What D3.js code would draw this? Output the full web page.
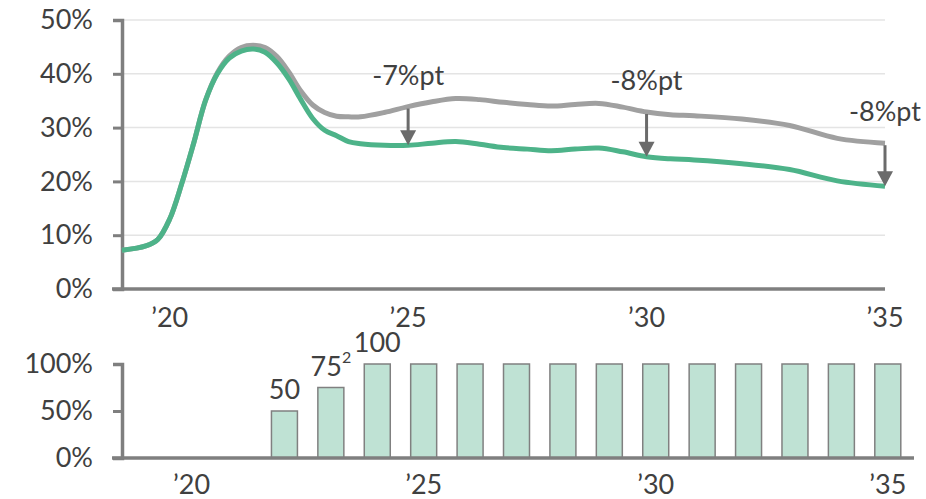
<!DOCTYPE html>
<html>
<head>
<meta charset="utf-8">
<script src="https://cdn.jsdelivr.net/npm/d3@7"></script>
<style>
  body { margin: 0; background: #fff; }
  text { font-family: Lato, "Open Sans", sans-serif; fill: #404040; }
</style>
</head>
<body>
<div id="the_chart"></div>
<script>
// line chart data (share, %)
var years = [2019, 2019.5, 2019.75, 2020, 2020.25, 2020.5, 2020.75, 2021, 2021.25, 2021.5, 2021.75,
    2022, 2022.25, 2022.5, 2022.75, 2023, 2023.25, 2023.5, 2023.75, 2024, 2024.5, 2025, 2025.5,
    2026, 2026.5, 2027, 2027.5, 2028, 2028.5, 2029, 2029.5, 2030, 2030.5, 2031, 2032, 2033, 2034, 2035];
var grayShare = [7.2, 8.0, 9.2, 13.0, 19.5, 27.0, 35.0, 40.2, 43.3, 44.9, 45.3,
    44.9, 43.2, 40.3, 36.8, 34.2, 32.8, 32.1, 32.0, 32.0, 32.8, 33.9, 34.8,
    35.4, 35.2, 34.7, 34.3, 34.0, 34.3, 34.5, 33.8, 32.9, 32.4, 32.2, 31.6, 30.4, 28.0, 27.1];
var greenShare = [7.2, 8.0, 9.2, 13.0, 19.5, 27.0, 35.0, 40.0, 42.9, 44.2, 44.6,
    44.0, 42.0, 39.0, 35.2, 31.7, 29.5, 28.5, 27.4, 27.0, 26.7, 26.7, 27.1,
    27.4, 26.9, 26.3, 26.0, 25.7, 26.0, 26.2, 25.5, 24.6, 24.2, 24.0, 23.3, 22.2, 20.1, 19.1];

var arrowYears = [2025, 2030, 2035];
var arrowLabels = ["-7%pt", "-8%pt", "-8%pt"];

var topTicks = [0, 10, 20, 30, 40, 50];
var xTickYears = [2020, 2025, 2030, 2035];

// bar chart data (%)
var barYears = [2019, 2020, 2021, 2022, 2023, 2024, 2025, 2026, 2027, 2028, 2029, 2030, 2031, 2032, 2033, 2034, 2035];
var barValues = [0, 0, 0, 50, 75, 100, 100, 100, 100, 100, 100, 100, 100, 100, 100, 100, 100];
var barLabels = ["", "", "", "50", "75", "100", "", "", "", "", "", "", "", "", "", "", ""];
var barNotes = ["", "", "", "", "2", "", "", "", "", "", "", "", "", "", "", "", ""];
var bottomTicks = [0, 50, 100];

var w = 926;
var h = 499;
var axisColor = "#7f7f7f";
var green = "#4db389";
var gray = "#a0a0a0";

var svg = d3.select("#the_chart")
    .append("svg")
    .attr("width", w)
    .attr("height", h);

function yearLabel(y) {
    return "\u2019" + String(y).slice(2);
}

// ---- top chart ----
var xscale = d3.scaleLinear()
    .domain([2019, 2035])
    .range([122, 885]);

var yscale = d3.scaleLinear()
    .domain([0, 50])
    .range([289, 20]);

svg.append("g")
    .selectAll("line")
    .data(topTicks.slice(1))
    .enter().append("line")
    .attr("x1", xscale(2019))
    .attr("x2", xscale(2035))
    .attr("y1", function (d) { return yscale(d); })
    .attr("y2", function (d) { return yscale(d); })
    .attr("stroke", "#e4e4e4")
    .attr("stroke-width", 1.5);

var yaxis = d3.axisLeft(yscale)
    .tickValues(topTicks)
    .tickSize(9)
    .tickPadding(20)
    .tickFormat(function (d) { return d + "%"; });

var gY = svg.append("g")
    .attr("transform", "translate(122,0)")
    .call(yaxis);
gY.select(".domain").attr("stroke", axisColor).attr("stroke-width", 3.5);
gY.selectAll(".tick line").attr("stroke", axisColor).attr("stroke-width", 3);
gY.selectAll(".tick text").style("font-size", "27px").attr("fill", "#404040");

var line = d3.line()
    .x(function (d, i) { return xscale(years[i]); })
    .y(function (d) { return yscale(d); })
    .curve(d3.curveCatmullRom.alpha(0.5));

svg.append("path")
    .datum(grayShare)
    .attr("d", line)
    .attr("fill", "none")
    .attr("stroke", gray)
    .attr("stroke-width", 5)
    .attr("stroke-linejoin", "round");

svg.append("path")
    .datum(greenShare)
    .attr("d", line)
    .attr("fill", "none")
    .attr("stroke", green)
    .attr("stroke-width", 5)
    .attr("stroke-linejoin", "round");

svg.append("line")
    .attr("x1", xscale(2019) - 10)
    .attr("x2", xscale(2035))
    .attr("y1", yscale(0))
    .attr("y2", yscale(0))
    .attr("stroke", axisColor)
    .attr("stroke-width", 3.5);

svg.append("g")
    .selectAll("text")
    .data(xTickYears)
    .enter().append("text")
    .attr("x", function (d) { return xscale(d); })
    .attr("y", 327)
    .attr("text-anchor", "middle")
    .style("font-size", "27px")
    .text(yearLabel);

// arrows
var arrows = svg.append("g");
arrowYears.forEach(function (yr, k) {
    var i = years.indexOf(yr);
    var x = xscale(yr);
    var y0 = yscale(grayShare[i]) + 2;
    var y1 = yscale(greenShare[i]);
    arrows.append("line")
        .attr("x1", x).attr("x2", x)
        .attr("y1", y0).attr("y2", y1 - 14)
        .attr("stroke", "#6b6b6b")
        .attr("stroke-width", 3);
    arrows.append("path")
        .attr("d", "M" + (x - 8) + "," + (y1 - 15) + "L" + (x + 8) + "," + (y1 - 15) + "L" + x + "," + y1 + "Z")
        .attr("fill", "#6b6b6b");
    arrows.append("text")
        .attr("x", x)
        .attr("y", yscale(grayShare[i]) - 22)
        .attr("text-anchor", "middle")
        .style("font-size", "27px")
        .text(arrowLabels[k]);
});

// ---- bottom chart ----
var bscale = d3.scaleBand()
    .domain(barYears)
    .range([122, 911])
    .paddingInner(0.44)
    .paddingOuter(0.22);

var hscale = d3.scaleLinear()
    .domain([0, 100])
    .range([458, 364]);

var yaxis2 = d3.axisLeft(hscale)
    .tickValues(bottomTicks)
    .tickSize(9)
    .tickPadding(20)
    .tickFormat(function (d) { return d + "%"; });

var gY2 = svg.append("g")
    .attr("transform", "translate(122,0)")
    .call(yaxis2);
gY2.select(".domain").attr("stroke", axisColor).attr("stroke-width", 3.5);
gY2.selectAll(".tick line").attr("stroke", axisColor).attr("stroke-width", 3);
gY2.selectAll(".tick text").style("font-size", "27px").attr("fill", "#404040");

var barData = barYears.map(function (yr, i) {
    return { year: yr, value: barValues[i], label: barLabels[i], note: barNotes[i] };
});

svg.selectAll("rect")
    .data(barData.filter(function (d) { return d.value > 0; }))
    .enter().append("rect")
    .attr("x", function (d) { return bscale(d.year); })
    .attr("width", bscale.bandwidth())
    .attr("y", function (d) { return hscale(d.value); })
    .attr("height", function (d) { return hscale(0) - hscale(d.value); })
    .attr("fill", "#bfe2d4")
    .attr("stroke", "#808080")
    .attr("stroke-width", 1.5);

svg.append("line")
    .attr("x1", 112)
    .attr("x2", 914)
    .attr("y1", hscale(0))
    .attr("y2", hscale(0))
    .attr("stroke", axisColor)
    .attr("stroke-width", 3.5);

var labels = svg.append("g")
    .selectAll("text")
    .data(barData.filter(function (d) { return d.label !== ""; }))
    .enter().append("text")
    .attr("x", function (d) { return bscale(d.year) + bscale.bandwidth() / 2; })
    .attr("y", function (d) { return hscale(d.value) - 12; })
    .attr("text-anchor", "middle")
    .style("font-size", "27px");
labels.append("tspan").text(function (d) { return d.label; });
labels.append("tspan")
    .attr("dy", -13)
    .style("font-size", "16px")
    .text(function (d) { return d.note; });

svg.append("g")
    .selectAll("text")
    .data(xTickYears)
    .enter().append("text")
    .attr("x", function (d) { return bscale(d) + bscale.bandwidth() / 2; })
    .attr("y", 494)
    .attr("text-anchor", "middle")
    .style("font-size", "27px")
    .text(yearLabel);
</script>
</body>
</html>
